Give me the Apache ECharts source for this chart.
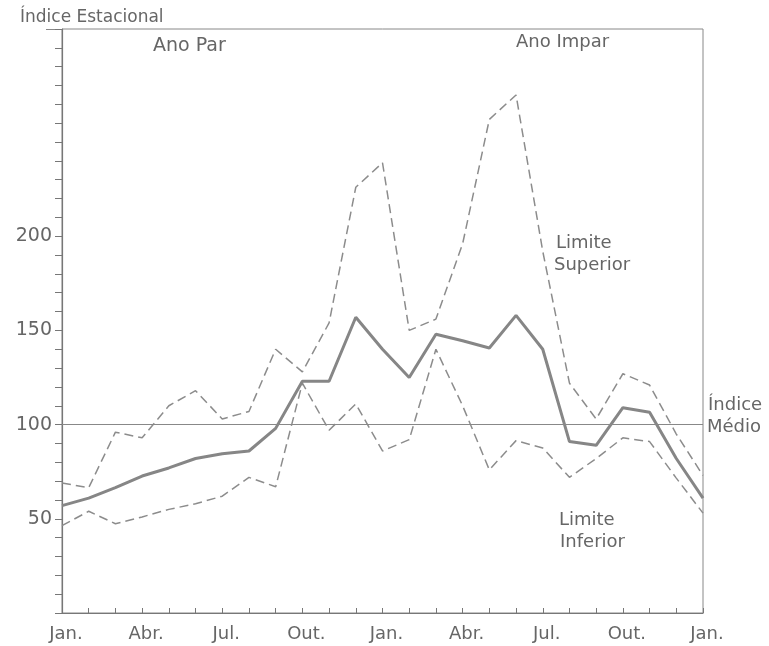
<!DOCTYPE html>
<html>
<head>
<meta charset="utf-8">
<script src="https://cdn.jsdelivr.net/npm/echarts@6/dist/echarts.min.js"></script>
<style>
html,body{margin:0;padding:0;background:#fff;}
#c{width:769px;height:646px;}
</style>
</head>
<body>
<div id="c"></div>
<script>
// Months (Jan. of even year to Jan. two years later)
const meses = ['Jan.','Fev.','Mar.','Abr.','Mai.','Jun.','Jul.','Ago.','Set.','Out.','Nov.','Dez.',
               'Jan.','Fev.','Mar.','Abr.','Mai.','Jun.','Jul.','Ago.','Set.','Out.','Nov.','Dez.','Jan.'];
const indiceMedio    = [57,61,66.5,72.7,77,82,84.5,86,98,123,123,157,140,125,148,144.5,140.7,158,140,91,89,109,106.6,82,61];
const limiteSuperior = [69,66.5,96,93,110,118,103,107,140,128,154,226,239,150,156,196,262,275,192,122,103,127,121,95,73];
const limiteInferior = [46.4,54,47.4,51,55,58,62,72,67,122,97,111,86,92,140,110,76,91.5,87.6,72,82,93,91,71.6,53];
const yLabels = [50,100,150,200];
const indiceRef = 100;

const chart = echarts.init(document.getElementById('c'), null, {renderer:'canvas'});
const txt = '#666';
const font = 'DejaVu Sans';
function label(text, x, y, size){
  return {type:'text', left:x, top:y, style:{text:text, fill:txt, font: size+'px "'+font+'"'}};
}
chart.setOption({
  backgroundColor:'#fff',
  animation:false,
  grid:{left:62, right:66, top:29, bottom:33, show:true, borderColor:'#888', borderWidth:1},
  xAxis:{
    type:'category', data:meses, boundaryGap:false,
    axisLine:{lineStyle:{color:'#777', width:1.2}},
    axisTick:{inside:true, length:5, interval:0, lineStyle:{color:'#777'}},
    axisLabel:{interval:2, color:txt, fontFamily:font, fontSize:18, margin:12, padding:[0,0,0,8]},
    splitLine:{show:false}
  },
  yAxis:{
    type:'value', min:0, max:310, interval:10,
    axisLine:{show:true, lineStyle:{color:'#777', width:1.2}},
    axisTick:{show:true, length:7, lineStyle:{color:'#777'}},
    axisLabel:{color:txt, fontFamily:font, fontSize:19, margin:10,
      formatter: v => yLabels.indexOf(v) >= 0 ? String(v) : ''},
    splitLine:{show:false}
  },
  series:[
    {name:'Limite Superior', type:'line', data:limiteSuperior, symbol:'none',
     lineStyle:{color:'#8c8c8c', width:1.5, type:[9,5]}},
    {name:'Limite Inferior', type:'line', data:limiteInferior, symbol:'none',
     lineStyle:{color:'#8c8c8c', width:1.5, type:[9,5]}},
    {name:'Índice Estacional', type:'line', data:indiceMedio, symbol:'none',
     lineStyle:{color:'#868686', width:3},
     markLine:{silent:true, symbol:'none', label:{show:false},
       lineStyle:{color:'#888', width:1.2, type:'solid'},
       data:[{yAxis:indiceRef}]}}
  ],
  graphic:[
    {type:'line', shape:{x1:46, y1:29.5, x2:62, y2:29.5}, style:{stroke:'#888', lineWidth:1}},
    label('Índice Estacional', 20, 9, 17),
    label('Ano Par', 153, 37, 19),
    label('Ano Impar', 516, 33, 18),
    label('Limite', 556, 234, 18),
    label('Superior', 554, 256, 18),
    label('Índice', 708, 396, 18),
    label('Médio', 707, 418, 18),
    label('Limite', 559, 511, 18),
    label('Inferior', 560, 533, 18)
  ]
});
</script>
</body>
</html>
